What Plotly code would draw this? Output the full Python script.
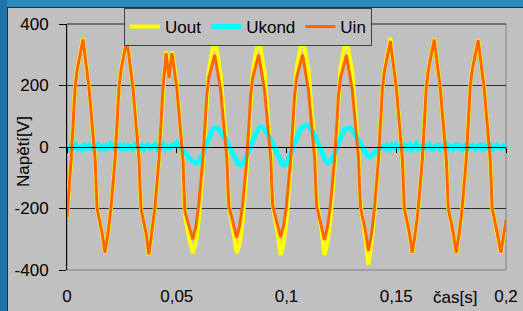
import numpy as np
import plotly.graph_objects as go

# ---------------- data ----------------
t_u = [
    0.0000, 0.0019, 0.0037, 0.0046, 0.0073, 0.0100, 0.0128, 0.0137, 0.0160, 0.0173,
    0.0187, 0.0200, 0.0219, 0.0237, 0.0246, 0.0273, 0.0300, 0.0328, 0.0337, 0.0360, 0.0373,
    0.0387, 0.0400, 0.0419, 0.0437, 0.0446, 0.0451, 0.0465, 0.0478, 0.0500, 0.0528, 0.0537, 0.0560, 0.0573,
    0.0587, 0.0600, 0.0619, 0.0637, 0.0646, 0.0673, 0.0700, 0.0728, 0.0737, 0.0760, 0.0773,
    0.0787, 0.0800, 0.0819, 0.0837, 0.0846, 0.0873, 0.0900, 0.0928, 0.0937, 0.0960, 0.0973,
    0.0987, 0.1000, 0.1019, 0.1037, 0.1046, 0.1073, 0.1100, 0.1128, 0.1137, 0.1160, 0.1173,
    0.1187, 0.1200, 0.1219, 0.1237, 0.1246, 0.1273, 0.1300, 0.1328, 0.1337, 0.1360, 0.1373,
    0.1387, 0.1400, 0.1419, 0.1437, 0.1446, 0.1473, 0.1500, 0.1528, 0.1537, 0.1560, 0.1573,
    0.1587, 0.1600, 0.1619, 0.1637, 0.1646, 0.1673, 0.1700, 0.1728, 0.1737, 0.1760, 0.1773,
    0.1787, 0.1800, 0.1819, 0.1837, 0.1846, 0.1873, 0.1900, 0.1928, 0.1937, 0.1960, 0.1977, 0.2000,
]

u_in = [
    -230, -40, 195, 250, 350, 195, -40, -200, -280, -345,
    -280, -200, -40, 195, 250, 350, 195, -40, -200, -280, -350,
    -280, -200, -40, 190, 260, 305, 225, 305, 195, -40, -210, -270, -300,
    -260, -190, -40, 170, 225, 300, 185, -35, -190, -255, -295,
    -255, -190, -40, 170, 225, 300, 185, -35, -190, -255, -293,
    -255, -190, -40, 170, 225, 300, 185, -35, -190, -260, -302,
    -260, -190, -40, 170, 225, 298, 185, -35, -195, -275, -338,
    -285, -205, -40, 190, 245, 345, 195, -40, -200, -280, -345,
    -280, -200, -40, 195, 250, 350, 195, -40, -200, -280, -345,
    -280, -200, -40, 195, 250, 348, 195, -40, -200, -280, -345, -237,
]

u_out = [
    -232, -40, 197, 252, 353, 197, -40, -200, -282, -347,
    -282, -200, -40, 197, 252, 353, 197, -40, -200, -282, -352,
    -282, -200, -40, 192, 262, 310, 228, 310, 209, -45, -222, -308, -345,
    -312, -239, -65, 175, 250, 356, 235, -17, -185, -285, -345,
    -314, -244, -70, 173, 245, 358, 243, -21, -188, -282, -350,
    -314, -242, -60, 185, 255, 360, 253, -2, -170, -274, -351,
    -310, -238, -64, 184, 257, 357, 241, -9, -185, -300, -384,
    -315, -225, -42, 192, 247, 355, 197, -40, -200, -282, -347,
    -282, -200, -40, 197, 252, 352, 197, -40, -200, -282, -347,
    -282, -200, -40, 197, 252, 350, 197, -40, -200, -282, -347, -239,
]

# Ukond sampled every 1 ms from 0 to 0.2 s
t_k = np.round(np.arange(0, 201) * 0.001, 3)
u_kond = [
    # 0.000 - 0.048
    3, -6, 5, -2, 7, -5, 0, -8, 4, -3, 6, -4, -7, 2, 8, -5, 1, -6, 5, -2,
    9, -4, -8, 2, 6, -5, 3, -9, 4, 1, -6, 7, -2, -5, 5, -7, 3, 6, -4, -1,
    7, -6, 2, -3, 8, -5, 1, -4, 6,
    # 0.049 - 0.144
    5, 14, 8, -2, -12, -22, -30, -38, -45, -50,
    -53, -49, -38, -22, -3, 18, 38, 52, 61, 62,
    58, 50, 40, 28, 15, 2, -14, -30, -45, -55,
    -59, -54, -42, -25, -6, 14, 33, 48, 59, 65,
    64, 58, 48, 36, 22, 7, -10, -27, -44, -56,
    -59, -52, -38, -20, 0, 20, 38, 52, 63, 70,
    72, 68, 60, 48, 34, 19, 4, -14, -32, -46,
    -52, -48, -36, -18, 2, 22, 40, 52, 59, 62,
    62, 56, 46, 34, 20, 6, -8, -20, -29, -32,
    -28, -20, -12, -6, -2, 3,
    # 0.145 - 0.200
    -5, 4, -7, 6, -2, 8, -4, 1, -6, 5, -3, 7, -8, 2, 10, -5, 0, -6, 4, -2,
    7, -4, -6, 3, 5, -7, 2, -3, 8, -5, 1, -6, 6, -2, 4, -8, 3, 7, -4, 0,
    6, -5, 2, -3, 12, -6, 1, -4, 5, -7, 3, 6, -2, -5, 4, -1,
]

x_tick_vals = [0, 0.05, 0.1, 0.15, 0.2]
x_tick_text = ["0", "0,05", "0,1", "0,15", "0,2"]
y_tick_vals = [-400, -200, 0, 200, 400]
y_tick_text = ["-400", "-200", "0", "200", "400"]

assert len(t_u) == len(u_in) == len(u_out)
assert len(t_k) == len(u_kond)

FONT = "Liberation Sans, Arial, sans-serif"
GREY = "#c0c0c0"

fig = go.Figure()
fig.add_trace(go.Scatter(x=t_u, y=u_out, mode="lines", name="Uout",
                         line=dict(color="#ffff00", width=4)))
fig.add_trace(go.Scatter(x=t_k, y=u_kond, mode="lines", name="Ukond",
                         line=dict(color="#00ffff", width=5), xaxis="x2"))
fig.add_trace(go.Scatter(x=t_u, y=u_in, mode="lines", name="Uin",
                         line=dict(color="#ff6600", width=3), xaxis="x2"))

# helpers to convert pixel positions to paper coords
L, R, T, B = 67, 17, 24, 41
W, H = 523, 311
pw, ph = W - L - R, H - T - B
def px(x):
    return (x - L) / pw
def py(y):
    return (H - B - y) / ph

fig.update_layout(
    width=W, height=H,
    margin=dict(l=L, r=R, t=T, b=B, pad=0, autoexpand=False),
    paper_bgcolor=GREY, plot_bgcolor=GREY,
    font=dict(family=FONT, size=17, color="black"),
    showlegend=True,
    legend=dict(orientation="h", x=px(248), xanchor="center", y=py(8), yanchor="top",
                bgcolor=GREY, bordercolor="#404040", borderwidth=1,
                font=dict(family=FONT, size=17, color="black"),
                itemwidth=30, tracegroupgap=0),
    xaxis=dict(range=[0, 0.2], tickvals=x_tick_vals, ticktext=x_tick_text,
               showgrid=False, zeroline=False, showline=False, ticks="",
               ticklabelstandoff=14, fixedrange=True, automargin=False),
    xaxis2=dict(overlaying="x", anchor="free", position=0.5, range=[0, 0.2],
                tickvals=x_tick_vals, ticks="outside", ticklen=5, tickcolor="black",
                showticklabels=False, showline=True, linecolor="black", linewidth=1,
                showgrid=False, zeroline=False, side="bottom"),
    yaxis=dict(range=[-400, 400], tickvals=y_tick_vals, ticktext=y_tick_text,
               showgrid=True, gridcolor="#303030", gridwidth=1,
               zeroline=False, showline=True, linecolor="black", linewidth=1,
               ticks="outside", ticklen=7, tickcolor="black",
               ticklabelstandoff=7, automargin=False),
    shapes=[
        dict(type="rect", xref="paper", yref="paper", x0=0, x1=1, y0=0, y1=1,
             line=dict(color="#808080", width=1), layer="below"),
        dict(type="line", xref="paper", yref="paper", x0=0, x1=1, y0=1, y1=1,
             line=dict(color="#606060", width=1.5), layer="below"),
        dict(type="rect", xref="paper", yref="paper", x0=px(0), x1=px(W), y0=py(7), y1=py(0),
             fillcolor="#2b8bbf", line=dict(width=0), layer="below"),
        dict(type="rect", xref="paper", yref="paper", x0=px(0), x1=px(7), y0=py(H), y1=py(0),
             fillcolor="#1f73aa", line=dict(width=0), layer="below"),
        dict(type="line", xref="paper", yref="paper", x0=px(7), x1=px(W), y0=py(7.5), y1=py(7.5),
             line=dict(color="#203040", width=1), layer="below"),
        dict(type="line", xref="paper", yref="paper", x0=px(7.5), x1=px(7.5), y0=py(H), y1=py(7),
             line=dict(color="#203040", width=1), layer="below"),
    ],
    annotations=[
        dict(text="čas[s]", xref="paper", yref="paper", x=px(455), y=py(297),
             xanchor="center", yanchor="middle", showarrow=False,
             font=dict(family=FONT, size=17, color="black")),
        dict(text="Napětí[V]", xref="paper", yref="paper", x=px(23), y=py(152),
             xanchor="center", yanchor="middle", showarrow=False, textangle=-90,
             font=dict(family=FONT, size=17, color="black")),
    ],
)

fig.write_html("out.html",
               config={"displayModeBar": False, "staticPlot": True},
               post_script="document.body.style.margin='0px';document.body.style.padding='0px';")
